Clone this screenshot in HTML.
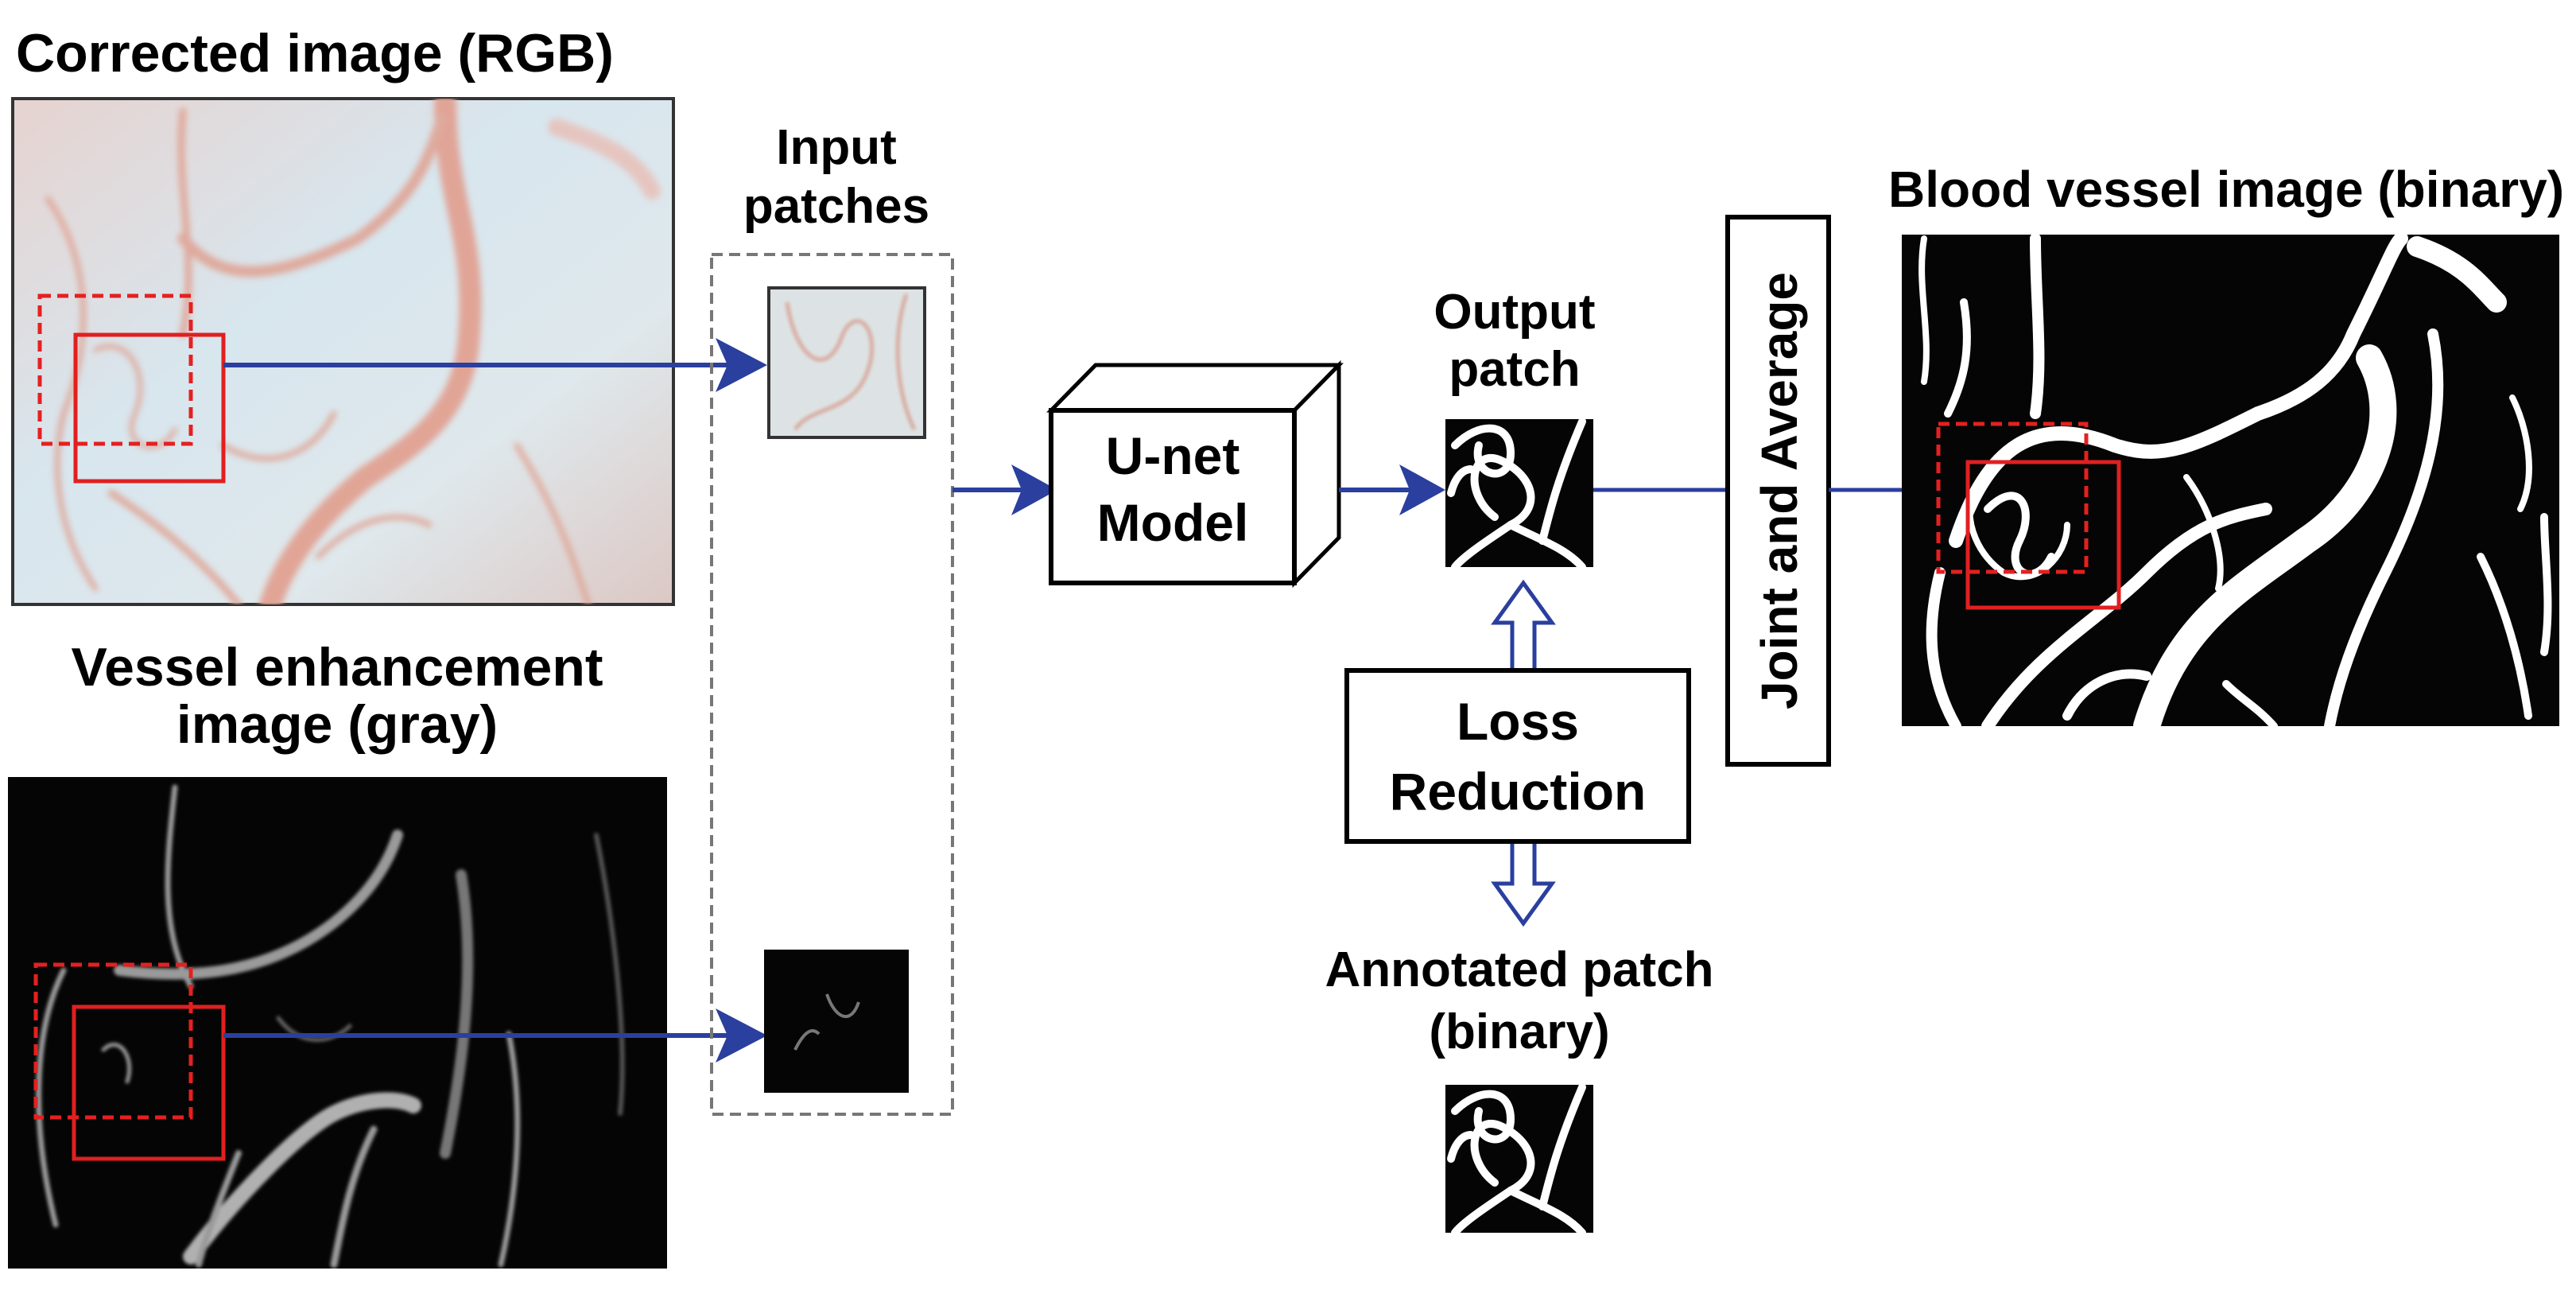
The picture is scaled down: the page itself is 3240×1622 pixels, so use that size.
<!DOCTYPE html>
<html><head><meta charset="utf-8"><style>
html,body{margin:0;padding:0;background:#fff;}
svg{display:block}
text{font-family:"Liberation Sans",Arial,sans-serif;font-weight:bold;fill:#000}
</style></head><body>
<svg width="3240" height="1622" viewBox="0 0 3240 1622" xmlns="http://www.w3.org/2000/svg">
<defs>
<linearGradient id="rgb" x1="0" y1="0" x2="1" y2="1">
<stop offset="0" stop-color="#e6d3d0"/><stop offset="0.4" stop-color="#d8e6ee"/><stop offset="0.7" stop-color="#dfe8ec"/><stop offset="1" stop-color="#dcc8c4"/></linearGradient>
<filter id="bl"><feGaussianBlur stdDeviation="4"/></filter>
<filter id="bl2"><feGaussianBlur stdDeviation="2"/></filter>
</defs>
<text x="20" y="90" font-size="68">Corrected image (RGB)</text>
<text x="424" y="862" font-size="68" text-anchor="middle">Vessel enhancement</text>
<text x="424" y="934" font-size="68" text-anchor="middle">image (gray)</text>
<text x="1052" y="206" font-size="62" text-anchor="middle">Input</text>
<text x="1052" y="280" font-size="62" text-anchor="middle">patches</text>
<text x="1905" y="413" font-size="62" text-anchor="middle">Output</text>
<text x="1905" y="485" font-size="62" text-anchor="middle">patch</text>
<text x="2800" y="260" font-size="64" text-anchor="middle">Blood vessel image (binary)</text>
<text x="1911" y="1240" font-size="62" text-anchor="middle">Annotated patch</text>
<text x="1911" y="1318" font-size="62" text-anchor="middle">(binary)</text>

<rect x="16" y="124" width="831" height="636" fill="url(#rgb)" stroke="#333" stroke-width="4"/>
<svg x="16" y="124" width="831" height="636" viewBox="16 124 831 636">
<g fill="none" stroke="#e0a090" stroke-linecap="round" filter="url(#bl)" opacity="0.85">
<path d="M560 130 C 560 250 600 300 590 420 C 585 520 520 560 460 600 C 400 650 360 700 340 760" stroke-width="28" stroke="#e29a88"/>
<path d="M230 300 C 280 360 350 350 450 300 C 520 250 540 200 555 150" stroke-width="14"/>
<path d="M230 140 C 220 240 250 320 230 420" stroke-width="9"/>
<path d="M60 250 C 110 320 120 420 80 520 C 60 600 80 680 120 740" stroke-width="7"/>
<path d="M280 560 C 350 600 400 560 420 520" stroke-width="7"/>
<path d="M700 160 C 760 180 800 200 820 240" stroke-width="22" stroke="#e8c0b8"/>
<path d="M650 560 C 700 640 720 700 740 760" stroke-width="7"/>
<path d="M140 620 C 200 660 250 700 300 760" stroke-width="9"/>
<path d="M120 440 C 160 420 190 470 170 520 C 150 560 200 580 220 540" stroke-width="6"/>
<path d="M400 700 C 450 650 500 640 540 660" stroke-width="7"/>
</g></svg>
<rect x="50" y="372" width="190" height="186" fill="none" stroke="#e52020" stroke-width="5" stroke-dasharray="14 8"/>
<rect x="95" y="421" width="186" height="184" fill="none" stroke="#e02020" stroke-width="5"/>
<line x1="281" y1="459" x2="930" y2="459" stroke="#2a3f9e" stroke-width="6"/>
<polygon points="900,425 965,459 900,493 915,459" fill="#2a3f9e"/>

<rect x="10" y="977" width="829" height="618" fill="#050505"/>
<svg x="10" y="977" width="829" height="618" viewBox="10 977 829 618">
<g fill="none" stroke="#9a9a9a" stroke-linecap="round" filter="url(#bl2)">
<path d="M150 1220 C 230 1230 330 1230 420 1160 C 470 1120 490 1080 500 1050" stroke-width="14"/>
<path d="M220 990 C 210 1080 200 1170 240 1240" stroke-width="7"/>
<path d="M80 1220 C 40 1300 40 1420 70 1540" stroke-width="7"/>
<path d="M580 1100 C 600 1220 580 1350 560 1450" stroke-width="14" stroke="#777"/>
<path d="M240 1580 C 300 1500 380 1420 420 1400 C 460 1380 500 1380 520 1390" stroke-width="20" stroke="#b0b0b0"/>
<path d="M470 1420 C 440 1480 430 1540 420 1590" stroke-width="9"/>
<path d="M640 1300 C 660 1400 650 1500 630 1590" stroke-width="7"/>
<path d="M750 1050 C 770 1150 790 1300 780 1400" stroke-width="6" stroke="#555"/>
<path d="M300 1450 C 280 1500 260 1550 250 1590" stroke-width="8"/>
<path d="M130 1320 C 150 1300 170 1330 160 1360" stroke-width="5"/>
<path d="M350 1280 C 380 1320 420 1310 440 1290" stroke-width="5" stroke="#666"/>
</g></svg>
<rect x="45" y="1213" width="195" height="192" fill="none" stroke="#e52020" stroke-width="5" stroke-dasharray="14 8"/>
<rect x="93" y="1266" width="188" height="191" fill="none" stroke="#e02020" stroke-width="5"/>
<line x1="281" y1="1302" x2="930" y2="1302" stroke="#2a3f9e" stroke-width="6"/>
<polygon points="900,1268 965,1302 900,1336 915,1302" fill="#2a3f9e"/>

<rect x="895" y="320" width="303" height="1081" fill="none" stroke="#777" stroke-width="4" stroke-dasharray="14 8"/>
<rect x="967" y="362" width="196" height="188" fill="#dde3e4" stroke="#333" stroke-width="4"/>
<g fill="none" stroke="#d8aaa0" stroke-width="5" filter="url(#bl2)"><path d="M990 380 C 1000 450 1040 480 1060 420 C 1080 380 1110 420 1090 470 C 1070 520 1020 510 1000 540"/><path d="M1140 370 C 1120 430 1130 500 1150 540"/></g>
<rect x="961" y="1194" width="182" height="180" fill="#050505"/>
<g fill="none" stroke="#777" stroke-width="4"><path d="M1040 1250 C 1050 1280 1070 1290 1080 1260"/><path d="M1000 1320 C 1010 1300 1020 1290 1030 1300"/></g>

<line x1="1198" y1="616" x2="1300" y2="616" stroke="#2a3f9e" stroke-width="6"/>
<polygon points="1272,584 1330,616 1272,648 1285,616" fill="#2a3f9e"/>

<polygon points="1322,516 1378,459 1684,459 1628,516" fill="#fff" stroke="#000" stroke-width="5"/>
<polygon points="1628,516 1684,459 1684,676 1628,733" fill="#fff" stroke="#000" stroke-width="5"/>
<rect x="1322" y="516" width="306" height="217" fill="#fff" stroke="#000" stroke-width="6"/>
<text x="1475" y="596" font-size="66" text-anchor="middle">U-net</text>
<text x="1475" y="680" font-size="66" text-anchor="middle">Model</text>

<line x1="1684" y1="616" x2="1790" y2="616" stroke="#2a3f9e" stroke-width="6"/>
<polygon points="1760,584 1818,616 1760,648 1773,616" fill="#2a3f9e"/>

<g id="pt">
<rect x="1818" y="527" width="186" height="186" fill="#050505"/>
<g fill="none" stroke="#fff" stroke-width="10" stroke-linecap="round">
<path d="M1830 560 C 1860 530 1900 530 1900 570 C 1900 610 1850 600 1860 560"/>
<path d="M1880 650 C 1840 620 1850 560 1890 580 C 1930 600 1940 640 1900 660 C 1870 680 1840 700 1830 713"/>
<path d="M1990 530 C 1960 600 1950 640 1940 680"/>
<path d="M1900 660 C 1940 680 1970 690 1990 713"/>
<path d="M1825 620 C 1830 600 1840 590 1850 590"/>
</g></g>
<use href="#pt" y="837"/>

<line x1="2004" y1="616" x2="2173" y2="616" stroke="#2a3f9e" stroke-width="5"/>

<polygon points="1916,733 1952,783 1930,783 1930,843 1902,843 1902,783 1880,783" fill="#fff" stroke="#2a3f9e" stroke-width="5"/>
<polygon points="1916,1161 1952,1111 1930,1111 1930,1058 1902,1058 1902,1111 1880,1111" fill="#fff" stroke="#2a3f9e" stroke-width="5"/>

<rect x="1694" y="843" width="430" height="215" fill="#fff" stroke="#000" stroke-width="6"/>
<text x="1909" y="930" font-size="66" text-anchor="middle">Loss</text>
<text x="1909" y="1018" font-size="66" text-anchor="middle">Reduction</text>

<rect x="2173" y="273" width="127" height="688" fill="#fff" stroke="#000" stroke-width="6"/>
<text transform="translate(2260,617) rotate(-90)" font-size="64" text-anchor="middle">Joint and Average</text>

<line x1="2300" y1="616" x2="2440" y2="616" stroke="#2a3f9e" stroke-width="5"/>
<polygon points="2420,590 2469,616 2420,642 2430,616" fill="#2a3f9e"/>

<rect x="2392" y="295" width="827" height="618" fill="#050505"/>
<svg x="2392" y="295" width="827" height="618" viewBox="2392 295 827 618">
<g fill="none" stroke="#fff" stroke-linecap="round">
<path d="M2460 680 C 2500 560 2560 520 2660 560 C 2720 580 2760 560 2840 520 C 2900 500 2940 470 2960 420 C 3000 340 3010 310 3020 300" stroke-width="18"/>
<path d="M2980 450 C 3020 520 2990 620 2900 680 C 2820 740 2740 780 2700 913" stroke-width="34"/>
<path d="M3040 310 C 3100 330 3120 360 3140 380" stroke-width="26"/>
<path d="M3060 420 C 3080 520 3050 620 3000 720 C 2960 800 2940 860 2930 913" stroke-width="14"/>
<path d="M2560 300 C 2560 380 2570 450 2560 520" stroke-width="14"/>
<path d="M2440 720 C 2420 800 2430 860 2460 913" stroke-width="14"/>
<path d="M2500 913 C 2560 820 2640 780 2700 720 C 2760 660 2800 650 2850 640" stroke-width="16"/>
<path d="M3120 700 C 3150 760 3170 830 3180 900" stroke-width="10"/>
<path d="M2470 380 C 2480 440 2470 480 2450 520" stroke-width="10"/>
<path d="M2500 640 C 2540 600 2560 640 2540 680 C 2520 720 2560 740 2580 700" stroke-width="10"/>
<path d="M2480 620 C 2470 660 2490 700 2520 720 C 2560 740 2600 700 2600 660" stroke-width="8"/>
<path d="M3200 650 C 3200 700 3210 760 3200 820" stroke-width="10"/>
<path d="M2800 860 C 2820 880 2840 890 2860 913" stroke-width="10"/>
<path d="M2420 300 C 2410 360 2430 420 2420 480" stroke-width="8"/>
<path d="M2600 900 C 2620 860 2660 840 2700 850" stroke-width="12"/>
<path d="M2750 600 C 2780 640 2800 700 2790 740" stroke-width="8"/>
<path d="M3160 500 C 3180 540 3190 600 3170 640" stroke-width="8"/>
</g></svg>
<rect x="2438" y="533" width="186" height="186" fill="none" stroke="#e52020" stroke-width="5" stroke-dasharray="14 8"/>
<rect x="2475" y="581" width="190" height="183" fill="none" stroke="#e02020" stroke-width="5"/>
</svg>
</body></html>
